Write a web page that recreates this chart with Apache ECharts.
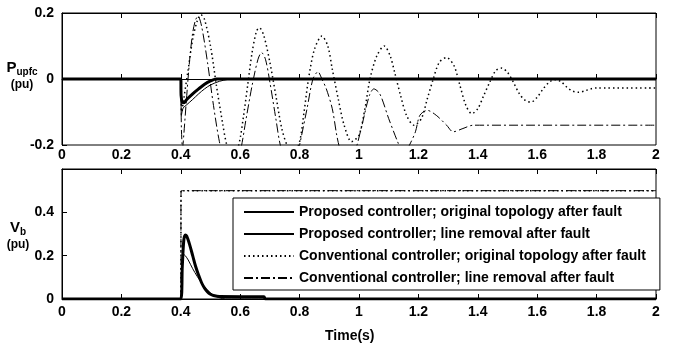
<!DOCTYPE html>
<html><head><meta charset="utf-8">
<script src="https://cdn.jsdelivr.net/npm/echarts@6/dist/echarts.min.js"></script>
<style>html,body{margin:0;padding:0;background:#fff}#c{width:673px;height:347px}</style>
</head><body><div id="c"></div>
<script>
// ---------- data (time s, value pu) ----------
const seriesNames = [
  'Proposed controller; original topology after fault',
  'Proposed controller; line removal after fault',
  'Conventional controller; original topology after fault',
  'Conventional controller; line removal after fault'
];
const xTickLabels = [0,0.2,0.4,0.6,0.8,1,1.2,1.4,1.6,1.8,2];
const yTicksTop = [-0.2,0,0.2];
const yTicksBottom = [0,0.2,0.4];

// Top panel: P_upfc
const propOrigP = [[0,0],[0.4,0],[0.401,-0.05],[0.405,-0.07],[0.41,-0.072],[0.42,-0.062],[0.44,-0.045],[0.46,-0.03],[0.48,-0.016],[0.50,-0.006],[0.52,0],[2,0]];
const propLineP = [[0,0],[0.4,0],[0.402,-0.11],[0.408,-0.088],[0.42,-0.078],[0.44,-0.062],[0.46,-0.045],[0.48,-0.03],[0.50,-0.018],[0.53,-0.007],[0.56,-0.001],[0.58,0],[2,0]];
const convOrigP = [[0,0],[0.4,0],[0.403,-0.1],[0.41,-0.06],[0.425,0.03],[0.44,0.12],[0.455,0.175],[0.468,0.195],[0.48,0.18],[0.5,0.1],[0.52,-0.02],[0.54,-0.13],[0.555,-0.2],[0.575,-0.24],[0.595,-0.2],[0.61,-0.12],[0.625,-0.02],[0.64,0.08],[0.655,0.145],[0.665,0.155],[0.68,0.13],[0.70,0.05],[0.72,-0.05],[0.74,-0.15],[0.76,-0.205],[0.78,-0.225],[0.80,-0.19],[0.815,-0.1],[0.83,0.0],[0.85,0.09],[0.875,0.13],[0.895,0.1],[0.91,0.03],[0.93,-0.06],[0.95,-0.14],[0.975,-0.19],[1.00,-0.17],[1.02,-0.09],[1.037,0.0],[1.06,0.07],[1.085,0.1],[1.105,0.07],[1.12,0.02],[1.14,-0.05],[1.16,-0.11],[1.185,-0.14],[1.21,-0.12],[1.23,-0.06],[1.25,0.0],[1.27,0.05],[1.295,0.065],[1.32,0.04],[1.34,-0.02],[1.36,-0.08],[1.38,-0.105],[1.40,-0.09],[1.42,-0.05],[1.44,-0.01],[1.46,0.025],[1.48,0.033],[1.50,0.02],[1.52,-0.01],[1.54,-0.045],[1.56,-0.065],[1.58,-0.07],[1.60,-0.055],[1.62,-0.03],[1.64,-0.01],[1.66,-0.002],[1.68,-0.008],[1.70,-0.025],[1.72,-0.037],[1.74,-0.04],[1.76,-0.036],[1.78,-0.03],[1.80,-0.027],[2,-0.027]];
const convLineP = [[0,0],[0.4,0],[0.402,-0.15],[0.406,-0.21],[0.41,-0.17],[0.42,-0.05],[0.43,0.06],[0.44,0.14],[0.45,0.18],[0.458,0.19],[0.47,0.16],[0.49,0.05],[0.51,-0.08],[0.53,-0.19],[0.55,-0.26],[0.575,-0.28],[0.60,-0.22],[0.62,-0.12],[0.64,-0.02],[0.66,0.06],[0.672,0.08],[0.685,0.06],[0.70,-0.01],[0.72,-0.12],[0.735,-0.2],[0.76,-0.27],[0.785,-0.26],[0.80,-0.2],[0.825,-0.09],[0.845,0.0],[0.862,0.022],[0.875,0.0],[0.89,-0.03],[0.91,-0.09],[0.925,-0.17],[0.935,-0.21],[0.96,-0.28],[0.99,-0.21],[1.01,-0.14],[1.035,-0.05],[1.05,-0.03],[1.07,-0.045],[1.10,-0.12],[1.13,-0.19],[1.15,-0.23],[1.17,-0.2],[1.19,-0.16],[1.205,-0.11],[1.23,-0.095],[1.26,-0.11],[1.295,-0.14],[1.317,-0.16],[1.35,-0.15],[1.385,-0.14],[2,-0.14]];

// Bottom panel: V_b
const propOrigV = [[0,0],[0.4,0],[0.405,0.15],[0.41,0.27],[0.415,0.295],[0.42,0.29],[0.43,0.25],[0.44,0.2],[0.45,0.15],[0.46,0.11],[0.47,0.075],[0.48,0.05],[0.49,0.033],[0.50,0.022],[0.51,0.016],[0.53,0.011],[0.68,0.01],[0.685,0],[2,0]];
const propLineV = [[0,0],[0.4,0],[0.405,0.15],[0.41,0.205],[0.415,0.2],[0.425,0.18],[0.44,0.14],[0.455,0.105],[0.47,0.075],[0.485,0.048],[0.50,0.028],[0.515,0.015],[0.53,0.006],[0.55,0],[2,0]];
const convOrigV = [[0,0],[0.4,0],[0.401,0.5],[2,0.5]];
const convLineV = [[0,0],[0.4,0],[0.401,0.5],[2,0.5]];

// ---------- chart ----------
const FONT = '"Liberation Sans", Arial, sans-serif';
const styles = [
  {width:3, type:'solid'},
  {width:1, type:'solid'},
  {width:1.5, type:[1.5,3]},
  {width:1, type:[9,3,2,3]}
];
function mk(name, data, idx, grid){
  const s = styles[idx];
  return {name, type:'line', data, xAxisIndex:grid*2, yAxisIndex:grid, symbol:'none', showSymbol:false,
    smooth:0.3, clip:true, z: 10-idx,
    itemStyle:{color:'#000'},
    lineStyle:{color:'#000', width:s.width, type:s.type}};
}
const labelStyle = {color:'#000', fontFamily:FONT, fontWeight:'bold', fontSize:14};
function xAx(grid, pos){
  const top = pos==='top';
  return {type:'value', gridIndex:grid, position:pos, min:0, max:2, interval:0.2,
    axisLine:{show:true, lineStyle:{color:'#000', width:1}},
    axisTick:{show:true, inside:true, length:5, lineStyle:{color:'#000'}},
    axisLabel: top ? {show:false} : Object.assign({margin: grid===0?3:6, formatter: v => String(+v.toFixed(1))}, labelStyle),
    splitLine:{show:false}};
}
function yAx(grid, min, max, ticks){
  return {type:'value', gridIndex:grid, min, max, interval:0.2,
    axisLine:{show:true, lineStyle:{color:'#000'}},
    axisTick:{show:true, inside:true, length:5, lineStyle:{color:'#000'}},
    axisLabel:Object.assign({margin:8, formatter: v => ticks.some(t=>Math.abs(t-v)<1e-9) ? String(+v.toFixed(1)) : ''}, labelStyle),
    splitLine:{show:false}};
}
const rich = {
  b:{fontSize:15, fontWeight:'bold', fontFamily:FONT, fill:'#000', lineHeight:17},
  s:{fontSize:10, fontWeight:'bold', fontFamily:FONT, fill:'#000', padding:[9,0,0,0], lineHeight:17},
  u:{fontSize:12, fontWeight:'bold', fontFamily:FONT, fill:'#000', lineHeight:16}
};
function ylabel(text, x, y){
  return {type:'text', x, y, style:{text, fill:'#000', align:'center', verticalAlign:'middle', rich}};
}
const chart = echarts.init(document.getElementById('c'), null, {renderer:'canvas'});
chart.setOption({
  animation:false,
  backgroundColor:'#fff',
  grid:[
    {left:62, right:17, top:13, height:132, show:true, borderColor:'#000', borderWidth:1, containLabel:false, outerBoundsMode:'none'},
    {left:62, right:17, top:169, height:130, show:true, borderColor:'#000', borderWidth:1, containLabel:false, outerBoundsMode:'none'}
  ],
  xAxis:[xAx(0,'bottom'), xAx(0,'top'), xAx(1,'bottom'), xAx(1,'top')],
  yAxis:[
    yAx(0, -0.2, 0.2, yTicksTop),
    yAx(1, 0, 0.6, yTicksBottom)
  ],
  legend:{
    orient:'vertical', left:233, top:198, data:seriesNames,
    itemWidth:50, itemHeight:14, itemGap:8,
    padding:[7,14,5,10],
    backgroundColor:'#fff', borderColor:'#000', borderWidth:1, borderRadius:0,
    itemStyle:{opacity:0, borderWidth:0},
    textStyle:Object.assign({}, labelStyle, {fontSize:14}),
    selectedMode:false
  },
  graphic:[
    {type:'text', x:325, y:336, style:{text:'Time(s)', fill:'#000', font:'bold 14px '+FONT, verticalAlign:'middle', align:'left'}},
    ylabel('{b|P}{s|upfc}\n{u|(pu)}', 22, 76),
    ylabel('{b|V}{s|b}\n{u|(pu)}', 18, 236)
  ],
  series:[
    mk(seriesNames[0], propOrigP, 0, 0),
    mk(seriesNames[1], propLineP, 1, 0),
    mk(seriesNames[2], convOrigP, 2, 0),
    mk(seriesNames[3], convLineP, 3, 0),
    mk(seriesNames[0], propOrigV, 0, 1),
    mk(seriesNames[1], propLineV, 1, 1),
    mk(seriesNames[2], convOrigV, 2, 1),
    mk(seriesNames[3], convLineV, 3, 1)
  ]
});
</script></body></html>
